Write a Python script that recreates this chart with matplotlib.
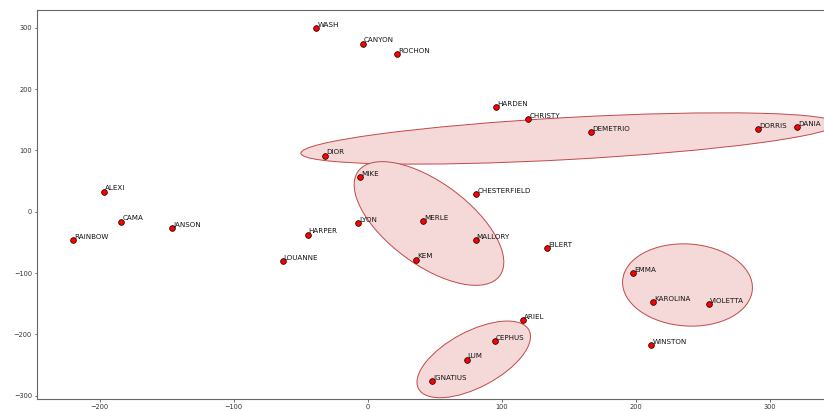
import matplotlib
matplotlib.use("Agg")
import matplotlib.pyplot as plt
from matplotlib.patches import Ellipse
from matplotlib.transforms import Affine2D

# Точки (имя, x, y)
names = ["WASH", "CANYON", "ROCHON", "DIOR", "MIKE", "ALEXI", "HARDEN", "CHRISTY",
         "DEMETRIO", "DORRIS", "DANIA", "CHESTERFIELD", "CAMA", "JANSON", "RAINBOW",
         "LOUANNE", "HARPER", "LYON", "MERLE", "MALLORY", "KEM", "EILERT", "EMMA",
         "KAROLINA", "VIOLETTA", "ARIEL", "CEPHUS", "WINSTON", "LUM", "IGNATIUS"]
xs = [-38.4, -3.8, 21.6, -31.9, -5.8, -196.6, 95.9, 119.8,
      166.6, 291.0, 320.5, 81.0, -183.9, -146.1, -220.0,
      -63.5, -44.9, -7.5, 41.0, 80.5, 36.0, 133.5, 198.1,
      212.6, 254.6, 116.0, 94.7, 211.6, 73.8, 47.9]
ys = [299.5, 273.9, 256.6, 91.3, 56.1, 32.6, 170.2, 151.2,
      129.5, 134.4, 137.6, 28.4, -16.3, -27.1, -46.7,
      -80.4, -37.5, -19.0, -15.2, -46.7, -78.3, -59.8, -100.0,
      -147.8, -150.5, -177.1, -210.8, -217.9, -241.3, -276.5]

# Эллипсы кластеров: центр и две полуоси (в единицах данных)
ell_centers = [(150.1, 119.4), (45.7, -19.2), (79.1, -240.8), (238.6, -119.5)]
ell_axis_u = [(200.0, 24.1), (52.8, -85.3), (41.2, 47.8), (48.4, -7.3)]
ell_axis_v = [(0.87, -34.2), (-18.2, -53.8), (9.8, -40.3), (-2.2, -66.7)]

x_ticks = [-200, -100, 0, 100, 200, 300]
y_ticks = [-300, -200, -100, 0, 100, 200, 300]

fig = plt.figure(figsize=(8.24, 4.11), dpi=100)
ax = fig.add_axes([36.7 / 824, 12 / 411, (830 - 36.7) / 824, 389 / 411])

for (cx, cy), (ux, uy), (vx, vy) in zip(ell_centers, ell_axis_u, ell_axis_v):
    e = Ellipse((0, 0), 2, 2, facecolor="#f5d8d8", edgecolor="#c24848",
                linewidth=0.7, zorder=1)
    e.set_transform(Affine2D().from_values(ux, uy, vx, vy, cx, cy) + ax.transData)
    ax.add_patch(e)

ax.scatter(xs, ys, s=17, c="red", edgecolors="black", linewidths=0.5, zorder=3)
for name, x, y in zip(names, xs, ys):
    ax.annotate(name, (x, y), xytext=(0.8, 1.0), textcoords="offset points",
                fontsize=5.1, color="#111111", zorder=4)

ax.set_xlim(-247, (830 - 367.8) / 1.34)
ax.set_ylim(-305.4, 328.9)
ax.set_xticks(x_ticks)
ax.set_yticks(y_ticks)
ax.tick_params(labelsize=4.8, length=1.8, width=0.5, pad=1.6, colors="#333333")
for sp in ax.spines.values():
    sp.set_linewidth(0.8)
    sp.set_color("#666666")

fig.savefig("out.png", dpi=100)
